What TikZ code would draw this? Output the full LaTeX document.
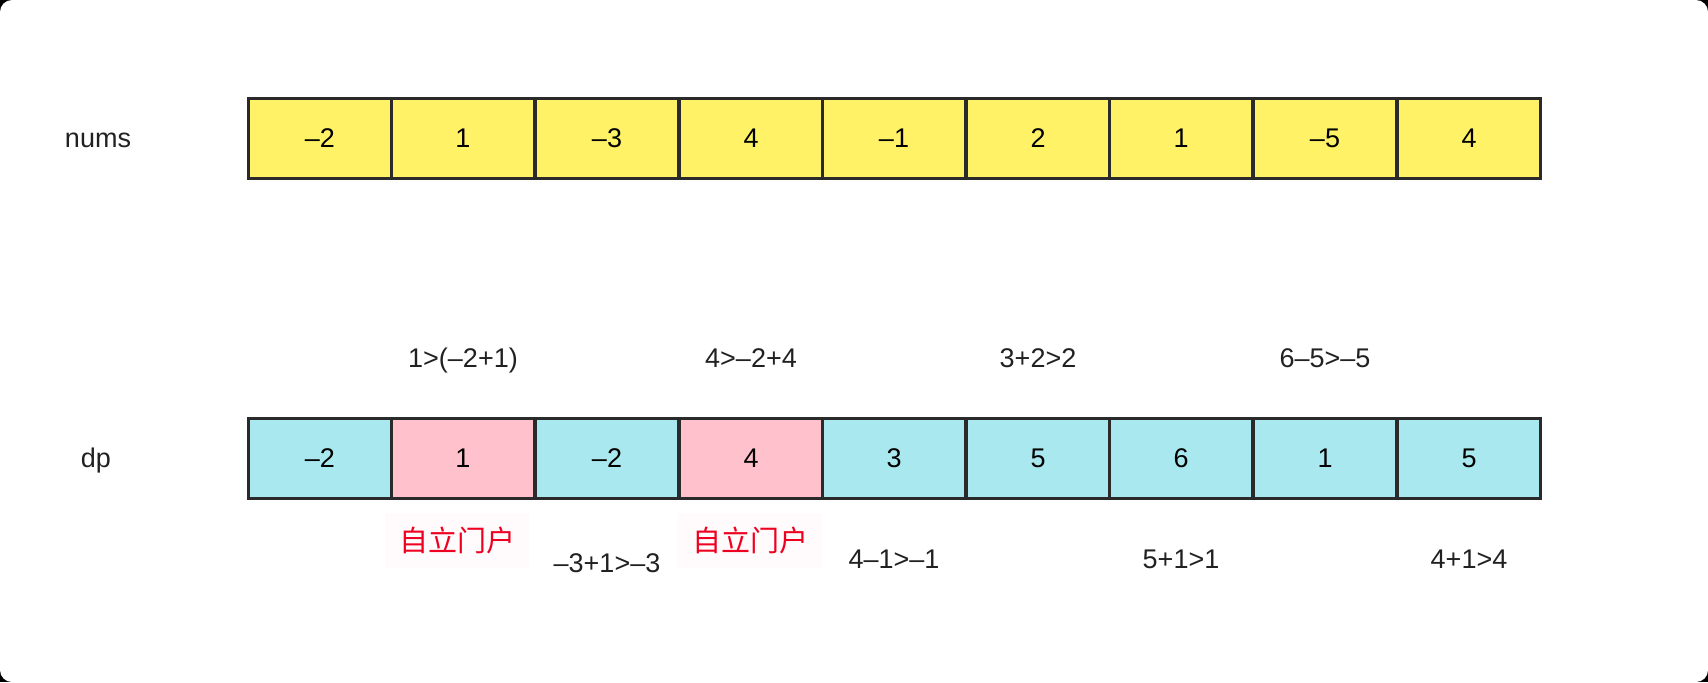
\documentclass[tikz,border=0pt]{standalone}
\usepackage{fontspec}
\setmainfont{Liberation Sans}
\newfontfamily\cjk{Noto Sans CJK SC}
\usepackage{tikz}

\definecolor{numsfill}{HTML}{FFF266}
\definecolor{dpfill}{HTML}{A8E8EE}
\definecolor{ownfill}{HTML}{FFC1CB}
\definecolor{cellline}{HTML}{2A2A2A}
\definecolor{owntext}{HTML}{EE0020}
\definecolor{ownback}{HTML}{FFFAFB}

\begin{document}
\begin{tikzpicture}[x=0.5pt, y=-0.5pt,
    cell/.style={draw=cellline, line width=1.5pt, minimum width=71.8pt, minimum height=40pt, inner sep=0pt, font=\fontsize{13.5}{16}\selectfont},
    yel/.style={cell, fill=numsfill},
    cyan/.style={cell, fill=dpfill},
    pinkcell/.style={cell, fill=ownfill},
    note/.style={font=\fontsize{13.5}{16}\selectfont, text=black!87, inner sep=0pt, text height=9.7pt, text depth=0pt},
    own/.style={fill=ownback, minimum width=72pt, minimum height=27.5pt, text=owntext, font=\cjk\fontsize{14.5}{17}\selectfont}]
    % background
    \fill[black] (0,0) rectangle (1708,682);
    \fill[white, rounded corners=6pt] (0,0) rectangle (1708,682);
    \useasboundingbox (0,0) rectangle (1708,682);

    % nums row
    \node [note](numslabel) at (98,138) {nums};
    \node [yel](n1) at (320,138) {–2};
    \node [yel](n2) at (463,138) {1};
    \node [yel](n3) at (607,138) {–3};
    \node [yel](n4) at (751,138) {4};
    \node [yel](n5) at (894,138) {–1};
    \node [yel](n6) at (1038,138) {2};
    \node [yel](n7) at (1181,138) {1};
    \node [yel](n8) at (1325,138) {–5};
    \node [yel](n9) at (1469,138) {4};

    % dp row
    \node [note](dplabel) at (96,458) {dp};
    \node [cyan](d1) at (320,458) {–2};
    \node [pinkcell](d2) at (463,458) {1};
    \node [cyan](d3) at (607,458) {–2};
    \node [pinkcell](d4) at (751,458) {4};
    \node [cyan](d5) at (894,458) {3};
    \node [cyan](d6) at (1038,458) {5};
    \node [cyan](d7) at (1181,458) {6};
    \node [cyan](d8) at (1325,458) {1};
    \node [cyan](d9) at (1469,458) {5};

    % comparisons above
    \node [note](c2) at (463,358) {1>(–2+1)};
    \node [note](c4) at (751,358) {4>–2+4};
    \node [note](c6) at (1038,358) {3+2>2};
    \node [note](c8) at (1325,358) {6–5>–5};

    % comparisons below
    \node [own](s2) at (457,540) {自立门户};
    \node [own](s4) at (750,540) {自立门户};
    \node [note](c3) at (607,563) {–3+1>–3};
    \node [note](c5) at (894,559) {4–1>–1};
    \node [note](c7) at (1181,559) {5+1>1};
    \node [note](c9) at (1469,559) {4+1>4};
\end{tikzpicture}
\end{document}
